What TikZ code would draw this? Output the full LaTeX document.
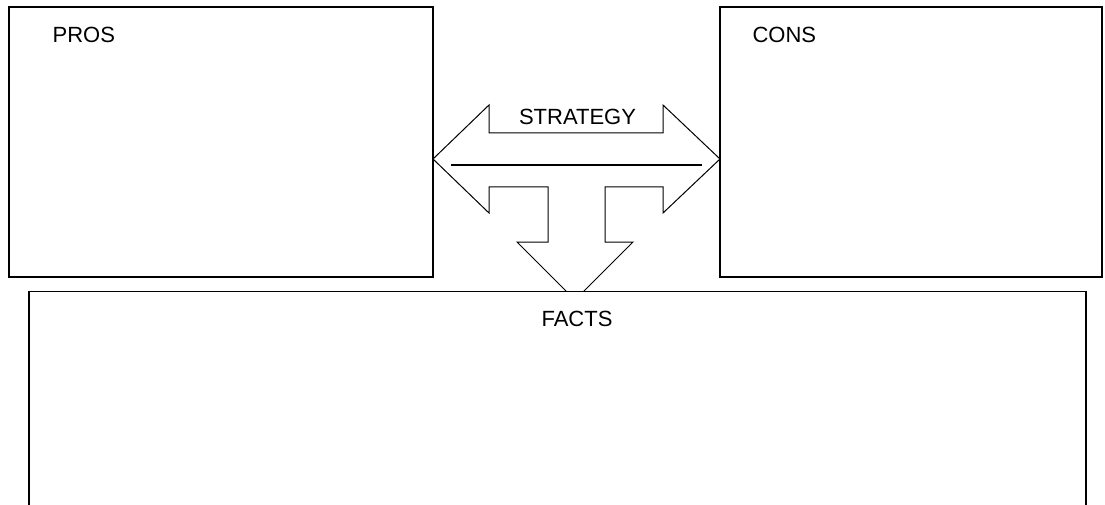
\documentclass[tikz,border=0pt]{standalone}
\usepackage{fontspec}
\setmainfont{Liberation Sans}

\begin{document}
\begin{tikzpicture}[x=1pt,y=-1pt,line width=1.2pt,
    box/.style={draw,inner sep=0pt,outer sep=0pt},
    lbl/.style={inner sep=0pt,font=\fontsize{22}{26}\selectfont}]
        \clip (0,0) rectangle (1105,505);
        \fill[white] (0,0) rectangle (1105,505);

        \node at (221,142) [box,minimum width=424pt,minimum height=270pt] (pros) {};
        \node at (911,142) [box,minimum width=382pt,minimum height=270pt] (cons) {};

        % strategy arrow, drawn before the facts box covers its tip
        \draw[line width=1pt,line join=miter] (433,159) -- (489,105) -- (489,133) -- (663,133) -- (663,105)
            -- (720,159) -- (663,213) -- (663,187) -- (605,187) -- (605,242) -- (633,242)
            -- (575,300) -- (517,242) -- (548,242) -- (548,187) -- (489,187) -- (489,213) -- cycle;
        \draw (451,165) -- (702,165);

        \node at (557.5,416) [box,fill=white,minimum width=1057pt,minimum height=249pt] (facts) {};

        \node at (52,35) [lbl,anchor=west] (proslbl) {PROS};
        \node at (752,35) [lbl,anchor=west] (conslbl) {CONS};
        \node at (577.5,116.5) [lbl] (strategylbl) {STRATEGY};
        \node at (577,318.5) [lbl] (factslbl) {FACTS};
\end{tikzpicture}
\end{document}
